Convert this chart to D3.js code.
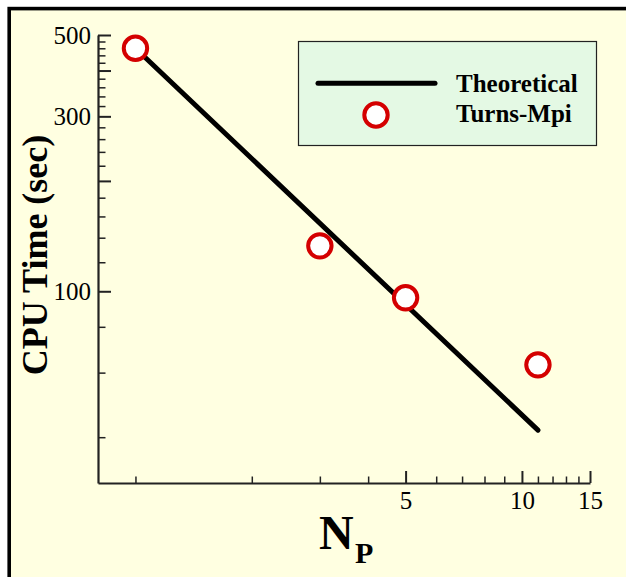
<!DOCTYPE html>
<html>
<head>
<meta charset="utf-8">
<script src="https://cdn.jsdelivr.net/npm/d3@7"></script>
<style>
  html, body { margin: 0; padding: 0; background: #ffffff; }
  svg { display: block; }
  text { font-family: "Liberation Serif", "Times New Roman", serif; fill: #000; }
</style>
</head>
<body>
<svg id="chart" width="626" height="577"></svg>
<script>
// Measured CPU time against number of processors
const procs = [1, 3, 5, 11];
const cpuTime = [460, 133, 96, 63];

// Ideal scaling line (time proportional to 1/N)
const theoryN = [1, 11];
const theoryTime = [460, 41.8];

// Axis ticks
const xTickLabels = [5, 10, 15];
const xMinorTicks = [1, 2, 3, 4, 6, 7, 8, 9, 11, 12, 13, 14];
const yMajorTicks = [100, 200, 300, 400, 500];
const yTickLabels = [100, 300, 500];
const yMinorTicks = [40, 60, 80, 120, 140, 160, 180, 220, 240, 260, 280,
                     320, 340, 360, 380, 420, 440, 460, 480];

const legendLabels = ["Theoretical", "Turns-Mpi"];

const svg = d3.select("#chart");

// Page frame
svg.append("rect")
  .attr("x", 9.2).attr("y", 8.6)
  .attr("width", 700).attr("height", 700)
  .attr("fill", "#ffffe1")
  .attr("stroke", "#000").attr("stroke-width", 3.6);

const plot = { left: 98, right: 590, top: 35, bottom: 483 };

const x = d3.scaleLog().domain([0.8, 15]).range([plot.left, plot.right]);
const y = d3.scaleLog().domain([30, 500]).range([plot.bottom, plot.top]);

// Minor ticks
svg.append("g")
  .attr("transform", `translate(0,${plot.bottom})`)
  .call(d3.axisBottom(x).tickValues(xMinorTicks).tickSizeInner(-6.5).tickSizeOuter(0).tickFormat(""))
  .call(g => g.select(".domain").remove())
  .call(g => g.selectAll("line").attr("stroke", "#222").attr("stroke-width", 1.5));

svg.append("g")
  .attr("transform", `translate(${plot.left},0)`)
  .call(d3.axisLeft(y).tickValues(yMinorTicks).tickSizeInner(-7.5).tickSizeOuter(0).tickFormat(""))
  .call(g => g.select(".domain").remove())
  .call(g => g.selectAll("line").attr("stroke", "#222").attr("stroke-width", 1.5));

// Major ticks and labels
const xAxis = svg.append("g")
  .attr("transform", `translate(0,${plot.bottom})`)
  .call(d3.axisBottom(x).tickValues(xTickLabels).tickSizeInner(-12).tickSizeOuter(0)
        .tickPadding(8).tickFormat(d3.format("d")));

const yAxis = svg.append("g")
  .attr("transform", `translate(${plot.left},0)`)
  .call(d3.axisLeft(y).tickValues(yMajorTicks).tickSizeInner(-13).tickSizeOuter(0)
        .tickPadding(7).tickFormat(d => yTickLabels.includes(d) ? d3.format("d")(d) : ""));

[xAxis, yAxis].forEach(ax => {
  ax.select(".domain").attr("stroke", "#222").attr("stroke-width", 2.2);
  ax.selectAll(".tick line").attr("stroke", "#222").attr("stroke-width", 2);
  ax.selectAll(".tick text")
    .attr("font-family", "Liberation Serif, Times New Roman, serif")
    .attr("font-size", 25).attr("fill", "#000");
});

// Theoretical line
const line = d3.line().x(d => x(d[0])).y(d => y(d[1]));
svg.append("path")
  .datum(theoryN.map((n, i) => [n, theoryTime[i]]))
  .attr("d", line)
  .attr("fill", "none")
  .attr("stroke", "#000")
  .attr("stroke-width", 5)
  .attr("stroke-linecap", "round");

// Measured points
svg.append("g").selectAll("circle")
  .data(procs.map((n, i) => [n, cpuTime[i]]))
  .join("circle")
  .attr("cx", d => x(d[0]))
  .attr("cy", d => y(d[1]))
  .attr("r", 11.7)
  .attr("fill", "#ffffff")
  .attr("stroke", "#d40000")
  .attr("stroke-width", 4);

// Axis titles
svg.append("text")
  .attr("transform", "translate(46.5,255) rotate(-90)")
  .attr("text-anchor", "middle")
  .attr("font-weight", "bold")
  .attr("font-size", 36)
  .text("CPU Time (sec)");

const xt = svg.append("text")
  .attr("x", 319).attr("y", 548.5)
  .attr("font-weight", "bold")
  .attr("font-size", 48);
xt.append("tspan").text("N");
xt.append("tspan").attr("x", 355).attr("y", 562.7).attr("font-size", 30).text("P");

// Legend
const legend = svg.append("g");
legend.append("rect")
  .attr("x", 298.5).attr("y", 41.5)
  .attr("width", 298).attr("height", 104)
  .attr("fill", "#e4f9e4")
  .attr("stroke", "#222").attr("stroke-width", 1.2);

legend.append("line")
  .attr("x1", 318).attr("x2", 435)
  .attr("y1", 83.3).attr("y2", 83.3)
  .attr("stroke", "#000").attr("stroke-width", 5)
  .attr("stroke-linecap", "round");

legend.append("circle")
  .attr("cx", 376).attr("cy", 115)
  .attr("r", 11.7)
  .attr("fill", "#ffffff")
  .attr("stroke", "#d40000")
  .attr("stroke-width", 4);

legend.selectAll("text.lab")
  .data(legendLabels)
  .join("text")
  .attr("class", "lab")
  .attr("x", 456)
  .attr("y", (d, i) => 91.7 + i * 30)
  .attr("font-weight", "bold")
  .attr("font-size", 25)
  .text(d => d);
</script>
</body>
</html>
